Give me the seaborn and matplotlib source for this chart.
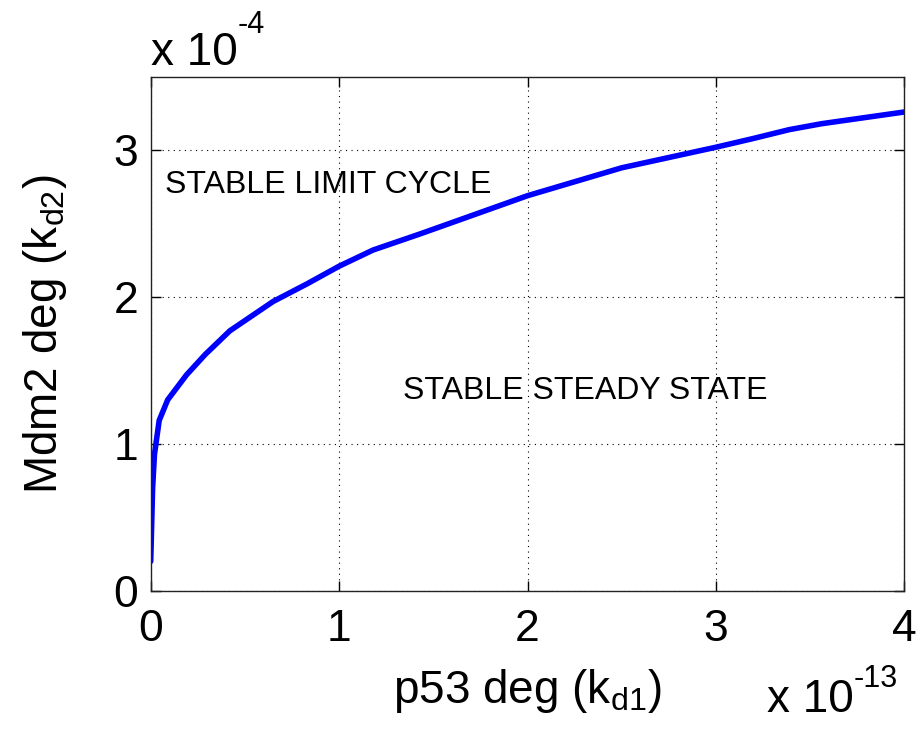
import numpy as np
import pandas as pd
import seaborn as sns
import matplotlib.pyplot as plt

# p53 degradation (x 1e-13) vs Mdm2 degradation (x 1e-4): Hopf boundary
kd1 = [0.0, 0.005, 0.01, 0.02, 0.045, 0.09, 0.19, 0.29, 0.42, 0.65, 0.83,
       1.0, 1.18, 1.43, 1.54, 2.0, 2.5, 3.0, 3.2, 3.39, 3.56, 4.0]
kd2 = [0.2, 0.45, 0.7, 0.93, 1.16, 1.30, 1.47, 1.61, 1.77, 1.97, 2.09,
       2.21, 2.32, 2.43, 2.48, 2.69, 2.88, 3.02, 3.08, 3.14, 3.18, 3.26]
x_ticks = [0, 1, 2, 3, 4]
y_ticks = [0, 1, 2, 3]
x_exp = "-13"
y_exp = "-4"
region_labels = ["STABLE LIMIT CYCLE", "STABLE STEADY STATE"]

df = pd.DataFrame({"kd1": kd1, "kd2": kd2})

sns.set_style("ticks")
plt.rcParams["font.family"] = ["Liberation Sans", "DejaVu Sans"]
plt.rcParams["mathtext.fontset"] = "custom"
plt.rcParams["mathtext.rm"] = "Liberation Sans"
plt.rcParams["mathtext.it"] = "Liberation Sans"
plt.rcParams["text.color"] = "black"
plt.rcParams["axes.labelcolor"] = "black"
plt.rcParams["xtick.color"] = "black"
plt.rcParams["ytick.color"] = "black"

fig = plt.figure(figsize=(9.19, 7.45), dpi=100)
ax = fig.add_axes([0.164, 0.207, 0.82, 0.69])

sns.lineplot(data=df, x="kd1", y="kd2", ax=ax, color="#0000ff",
             linewidth=4, sort=False)

ax.set_xlim(0, 4)
ax.set_ylim(0, 3.5)
ax.set_xticks(x_ticks)
ax.set_yticks(y_ticks)
ax.grid(True, color="black", linestyle=(0, (1, 4)), linewidth=0.8)
ax.tick_params(direction="in", length=7, width=1, labelsize=32,
               top=True, right=True)
ax.tick_params(axis="x", pad=13)
ax.tick_params(axis="y", pad=9)
for s in ax.spines.values():
    s.set_linewidth(1)
    s.set_color("#222222")

ax.set_xlabel(r"p53 deg (k$_{\mathrm{d1}}$)", fontsize=33, labelpad=12)
ax.set_ylabel(r"Mdm2 deg (k$_{\mathrm{d2}}$)", fontsize=33, labelpad=32)

ax.text(0.075, 2.76, region_labels[0], fontsize=23, va="center", ha="left")
ax.text(1.34, 1.36, region_labels[1], fontsize=23, va="center", ha="left")

# MATLAB-style exponent labels
ty = ax.text(0.0, 1.023, "x 10", transform=ax.transAxes,
             fontsize=33, ha="left", va="baseline")
ax.annotate(y_exp, xy=(1.0, 0.8), xycoords=ty, fontsize=22,
            ha="left", va="bottom")
tx = ax.text(0.818, -0.235, "x 10", transform=ax.transAxes,
             fontsize=33, ha="left", va="baseline")
ax.annotate(x_exp, xy=(1.0, 0.62), xycoords=tx, fontsize=22,
            ha="left", va="bottom")

fig.savefig("out.png", dpi=100)
